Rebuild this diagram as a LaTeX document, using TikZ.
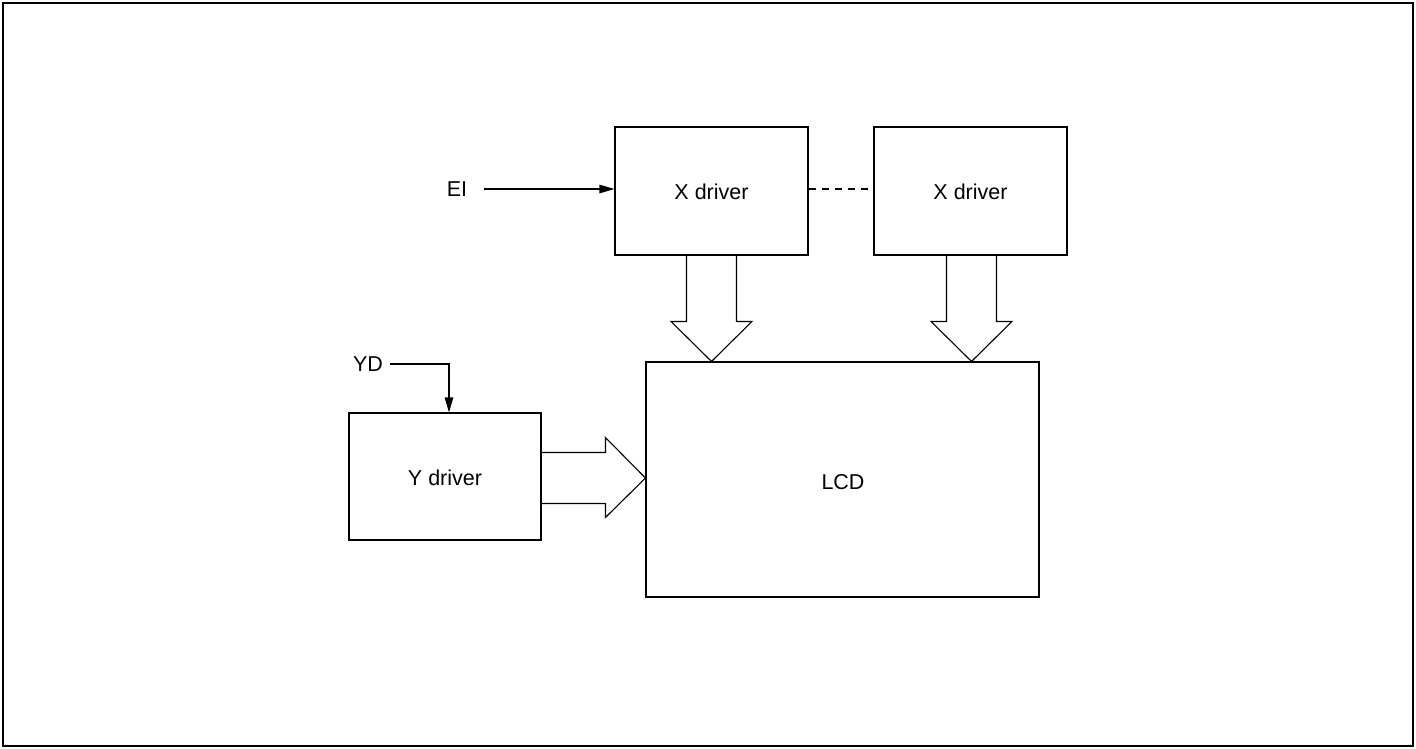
\documentclass[tikz,border=0pt]{standalone}
\usepackage{fontspec}
\setmainfont{Liberation Sans}
\usetikzlibrary{arrows.meta,calc}
\tikzset{
  blk/.style={draw, line width=1.1pt, inner sep=0pt, minimum width=193pt, minimum height=128pt},
  lbl/.style={inner sep=0pt, font=\fontsize{21.5}{26}\selectfont},
  sig/.style={line width=1.1pt, -{Triangle[length=15pt,width=8.5pt]}},
  hollow/.style={line width=1.1pt, line join=miter},
  dashlink/.style={line width=1.1pt, dash pattern=on 7pt off 6pt}
}
\begin{document}
\begin{tikzpicture}[x=1pt,y=-1pt]
\useasboundingbox (0,0) rectangle (1416,749);
\draw[line width=2.6pt] (3,3) rectangle (1413,746);
% blocks
\node[blk] (x1) at (711.5,191) {};
\node[lbl] at ($(x1.center)+(0,1)$) {X driver};
\node[blk] (x2) at (970.5,191) {};
\node[lbl] at ($(x2.center)+(0,1)$) {X driver};
\node[blk, minimum width=393pt, minimum height=235pt] (lcd) at (842.5,479.5) {};
\node[lbl] at (843,482) {LCD};
\node[blk, minimum width=192pt, minimum height=127pt] (yd) at (445,476.5) {};
\node[lbl] at ($(yd.center)+(0,1)$) {Y driver};
% inputs
\node[lbl] (ei) at (457,189) {EI};
\draw[sig] ([xshift=17pt]ei.east) -- (ei.east -| x1.west);
\node[lbl] (ydin) at (368,364) {YD};
\coordinate (ydtop) at ($(yd.north)+(4,0)$);
\draw[sig] ([xshift=7pt]ydin.east) -| (ydtop);
% dashed link
\draw[dashlink] ($(x1.east)+(0,-2)$) -- ($(x2.west)+(0,-2)$);
% hollow arrows X1 -> LCD
\coordinate (t1) at (x1.south |- lcd.north);
\draw[hollow] ($(x1.south)+(-25,0)$) -- ($(t1)+(-25,-40)$) -- ($(t1)+(-40.5,-40)$) -- (t1)
  -- ($(t1)+(40.5,-40)$) -- ($(t1)+(25,-40)$) -- ($(x1.south)+(25,0)$);
% X2 -> LCD
\coordinate (t2) at ($(x2.south |- lcd.north)+(1,0)$);
\coordinate (s2) at ($(x2.south)+(1,0)$);
\draw[hollow] ($(s2)+(-25,0)$) -- ($(t2)+(-25,-40)$) -- ($(t2)+(-40.5,-40)$) -- (t2)
  -- ($(t2)+(40.5,-40)$) -- ($(t2)+(25,-40)$) -- ($(s2)+(25,0)$);
% Y -> LCD
\coordinate (t3) at ($(yd.east -| lcd.west)+(0,1.5)$);
\coordinate (s3) at ($(yd.east)+(0,1.5)$);
\draw[hollow] ($(s3)+(0,-25.5)$) -- ($(t3)+(-40,-25.5)$) -- ($(t3)+(-40,-40.5)$) -- (t3)
  -- ($(t3)+(-40,39.5)$) -- ($(t3)+(-40,25.5)$) -- ($(s3)+(0,25.5)$);
\end{tikzpicture}
\end{document}
